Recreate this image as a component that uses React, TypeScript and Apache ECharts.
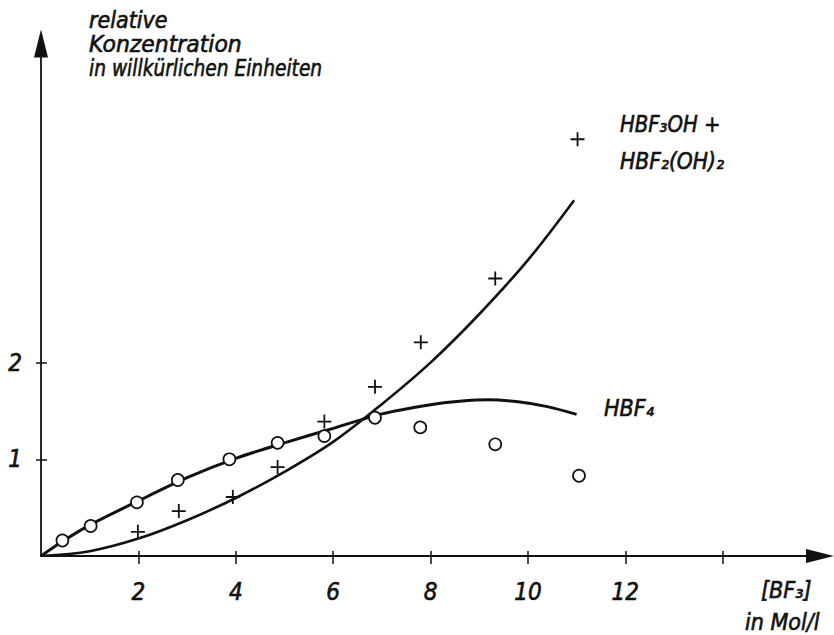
import React, { useEffect, useRef } from "react";
import * as echarts from "echarts";

// ---- data ----
const X_TICKS = [2, 4, 6, 8, 10, 12, 14];
const X_LABELS = [2, 4, 6, 8, 10, 12];
const Y_TICKS = [1, 2];
const Y_LABELS = [1, 2];

// measured points: HBF3OH + HBF2(OH)2  (plus markers)
const plusX = [1.99, 2.83, 3.94, 4.86, 5.82, 6.86, 7.8, 9.33, 11.02];
const plusY = [0.25, 0.465, 0.61, 0.92, 1.39, 1.75, 2.21, 2.87, 4.31];

// measured points: HBF4 (open circles)
const circleX = [0.44, 1.02, 1.97, 2.81, 3.87, 4.86, 5.82, 6.86, 7.79, 9.33, 11.05];
const circleY = [0.16, 0.31, 0.555, 0.786, 1.0, 1.17, 1.24, 1.43, 1.33, 1.155, 0.83];

// drawn curve: HBF3OH + HBF2(OH)2
const curveAX = [0, 1, 2, 3, 4, 5, 6, 7, 8, 9, 10, 10.95];
const curveAY = [0, 0.05, 0.18, 0.37, 0.6, 0.87, 1.18, 1.57, 2.0, 2.5, 3.06, 3.68];

// drawn curve: HBF4
const curveBX = [0, 0.5, 1, 2, 3, 4, 5, 6, 7, 8, 8.6, 9.2, 9.8, 10.4, 11];
const curveBY = [0, 0.17, 0.32, 0.57, 0.81, 1.01, 1.17, 1.32, 1.47, 1.565, 1.6, 1.615, 1.595, 1.545, 1.465];

const FONT = '"DejaVu Sans Condensed", "Liberation Sans Narrow", "DejaVu Sans", sans-serif';
const INK = "#111";

const zip = (xs: number[], ys: number[]) => xs.map((x, i) => [x, ys[i]]);

export default function App() {
  const ref = useRef<HTMLDivElement>(null);

  useEffect(() => {
    if (!ref.current) return;
    const chart = echarts.init(ref.current, undefined, { renderer: "svg" });

    const labelStyle = {
      fontFamily: FONT,
      fontStyle: "italic" as const,
      fontSize: 24,
      color: INK,
      textBorderColor: INK,
      textBorderWidth: 0.6,
    };

    const txt = (text: string, x: number, y: number, sx = 1, size = 23) => ({
      type: "text",
      x,
      y,
      scaleX: sx,
      scaleY: 1,
      silent: true,
      style: {
        text,
        fontFamily: FONT,
        fontStyle: "italic",
        fontSize: size,
        fill: INK,
        stroke: INK,
        lineWidth: 0.6,
        verticalAlign: "middle",
        align: "left",
      },
    });

    chart.setOption({
      animation: false,
      backgroundColor: "#fff",
      textStyle: { fontFamily: FONT },
      grid: { left: 41, right: 14, top: 43.5, bottom: 79, containLabel: false },
      xAxis: [
        {
          type: "value",
          min: 0,
          max: 16,
          position: "bottom",
          axisLine: {
            show: true,
            symbol: ["none", "triangle"],
            symbolSize: [14, 28],
            lineStyle: { color: INK, width: 1.8 },
          },
          axisTick: {
            show: true,
            inside: false,
            length: 8,
            customValues: X_TICKS,
            lineStyle: { color: INK, width: 1.5 },
          },
          axisLabel: { ...labelStyle, margin: 24, customValues: X_LABELS },
          splitLine: { show: false },
        },
        {
          type: "value",
          min: 0,
          max: 16,
          position: "bottom",
          offset: 0,
          axisLine: { show: false },
          axisTick: {
            show: true,
            inside: true,
            length: 5,
            customValues: X_TICKS,
            lineStyle: { color: INK, width: 1.5 },
          },
          axisLabel: { show: false },
          splitLine: { show: false },
        },
      ],
      yAxis: [
        {
          type: "value",
          min: 0,
          max: 5.3,
          position: "left",
          axisLine: {
            show: true,
            symbol: ["none", "triangle"],
            symbolSize: [14, 28],
            lineStyle: { color: INK, width: 1.8 },
          },
          axisTick: {
            show: true,
            inside: false,
            length: 5,
            customValues: Y_TICKS,
            lineStyle: { color: INK, width: 1.5 },
          },
          axisLabel: { ...labelStyle, margin: 19, customValues: Y_LABELS },
          splitLine: { show: false },
        },
        {
          type: "value",
          min: 0,
          max: 5.3,
          position: "left",
          offset: 0,
          axisLine: { show: false },
          axisTick: {
            show: true,
            inside: true,
            length: 6,
            customValues: Y_TICKS,
            lineStyle: { color: INK, width: 1.5 },
          },
          axisLabel: { show: false },
          splitLine: { show: false },
        },
      ],
      series: [
        {
          name: "HBF3OH + HBF2(OH)2 curve",
          type: "line",
          xAxisIndex: 0,
          yAxisIndex: 0,
          data: zip(curveAX, curveAY),
          smooth: 0.35,
          showSymbol: false,
          symbol: "none",
          lineStyle: { color: INK, width: 2.6 },
          z: 2,
        },
        {
          name: "HBF4 curve",
          type: "line",
          xAxisIndex: 0,
          yAxisIndex: 0,
          data: zip(curveBX, curveBY),
          smooth: 0.3,
          showSymbol: false,
          symbol: "none",
          lineStyle: { color: INK, width: 3 },
          z: 2,
        },
        {
          name: "HBF3OH + HBF2(OH)2",
          type: "scatter",
          xAxisIndex: 0,
          yAxisIndex: 0,
          data: zip(plusX, plusY),
          symbol: "path://M0,-10L0,10M-10,0L10,0",
          symbolSize: 14,
          itemStyle: { color: "none", borderColor: INK, borderWidth: 1.8, opacity: 1 },
          z: 3,
        },
        {
          name: "HBF4",
          type: "scatter",
          xAxisIndex: 0,
          yAxisIndex: 0,
          data: zip(circleX, circleY),
          symbol: "circle",
          symbolSize: 12,
          itemStyle: { color: "#fff", borderColor: INK, borderWidth: 1.7, opacity: 1 },
          z: 4,
        },
      ],
      graphic: [
        txt("relative", 89, 20),
        txt("Konzentration", 89, 44, 1.06),
        txt("in willkürlichen Einheiten", 89, 68, 0.9),
        txt("HBF₃OH +", 620, 124, 0.95),
        txt("HBF₂(OH)₂", 620, 161, 0.98),
        txt("HBF₄", 604, 408),
        txt("[BF₃]", 761, 590),
        txt("in Mol/l", 745, 622),
      ],
    });

    return () => chart.dispose();
  }, []);

  return (
    <div
      ref={ref}
      style={{ position: "absolute", left: 0, top: 0, width: 834, height: 635, background: "#fff" }}
    />
  );
}
